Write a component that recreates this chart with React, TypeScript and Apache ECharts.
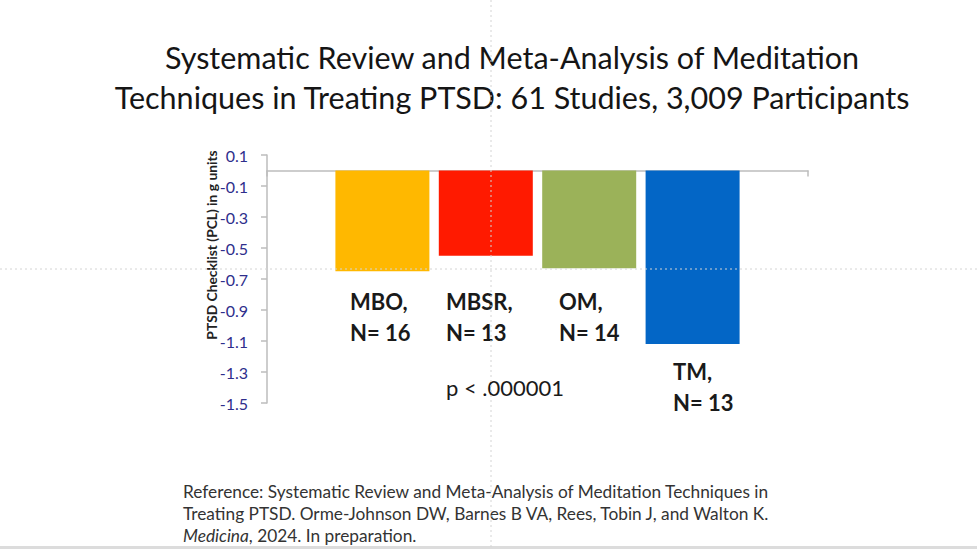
import React, { useEffect, useRef } from "react";
import * as echarts from "echarts";

const titleLines = [
  "Systematic Review and Meta-Analysis of Meditation",
  "Techniques in Treating PTSD: 61 Studies, 3,009 Participants",
];
const yAxisName = "PTSD Checklist (PCL) in g units";
const techniques = ["MBO", "MBSR", "OM", "TM"];
const studyCounts = [16, 13, 14, 13];
const effectSizes = [-0.65, -0.55, -0.63, -1.12];
const barColors = ["#FFB800", "#FF1A00", "#9BB259", "#0366C6"];
const yTicks = [0.1, -0.1, -0.3, -0.5, -0.7, -0.9, -1.1, -1.3, -1.5];
const pValueText = "p < .000001";
const referenceLines = [
  "Reference: Systematic Review and Meta-Analysis of Meditation Techniques in",
  "Treating PTSD. Orme-Johnson DW, Barnes B VA, Rees, Tobin J, and Walton K.",
];
const referenceItalic = "Medicina";
const referenceTail = ", 2024. In preparation.";

const labelPositions = [
  [350, 286],
  [446, 286],
  [559, 286],
  [673, 356],
];

export default function App() {
  const ref = useRef<HTMLDivElement>(null);
  useEffect(() => {
    if (!ref.current) return;
    const chart = echarts.init(ref.current, null, { renderer: "svg" });
    const font = "Lato, 'Open Sans', sans-serif";
    const graphic: any[] = [];
    titleLines.forEach((t, i) => {
      graphic.push({
        type: "text",
        x: 512,
        y: 57 + i * 40,
        style: {
          text: t,
          font: `30.5px ${font}`,
          fill: "#151515",
          textAlign: "center",
          textVerticalAlign: "middle",
        },
      });
    });
    graphic.push({
      type: "text",
      x: 211,
      y: 245,
      rotation: Math.PI / 2,
      style: {
        text: yAxisName,
        font: `bold 13.8px ${font}`,
        fill: "#222",
        textAlign: "center",
        textVerticalAlign: "middle",
      },
    });
    techniques.forEach((t, i) => {
      graphic.push({
        type: "text",
        x: labelPositions[i][0],
        y: labelPositions[i][1],
        style: {
          text: `${t},\nN= ${studyCounts[i]}`,
          font: `bold 22px ${font}`,
          fill: "#1a1a1a",
          lineHeight: 31,
          textAlign: "left",
          textVerticalAlign: "top",
        },
      });
    });
    graphic.push({
      type: "text",
      x: 446,
      y: 387,
      style: {
        text: pValueText,
        font: `22px ${font}`,
        fill: "#1a1a1a",
        textAlign: "left",
        textVerticalAlign: "middle",
      },
    });
    referenceLines.forEach((t, i) => {
      graphic.push({
        type: "text",
        x: 183,
        y: 491 + i * 22,
        style: {
          text: t,
          font: `17.3px ${font}`,
          fill: "#333",
          textAlign: "left",
          textVerticalAlign: "middle",
        },
      });
    });
    graphic.push({
      type: "text",
      x: 183,
      y: 535,
      style: {
        rich: {
          it: { fontStyle: "italic", fontSize: 17.3, fontFamily: font, fill: "#333" } as any,
          n: { fontSize: 17.3, fontFamily: font, fill: "#333" } as any,
        },
        text: `{it|${referenceItalic}}{n|${referenceTail}}`,
        font: `17.3px ${font}`,
        fill: "#333",
        textAlign: "left",
        textVerticalAlign: "middle",
      },
    });
    // screen overlay crosshair and bottom border
    graphic.push({
      type: "line",
      z: 100,
      shape: { x1: 491, y1: 0, x2: 491, y2: 549 },
      style: { stroke: "#d4d4d4", lineWidth: 1, lineDash: [2, 3] },
      silent: true,
    });
    graphic.push({
      type: "line",
      z: 100,
      shape: { x1: 0, y1: 269, x2: 977, y2: 269 },
      style: { stroke: "#d4d4d4", lineWidth: 1, lineDash: [2, 3] },
      silent: true,
    });
    graphic.push({
      type: "rect",
      shape: { x: 0, y: 546, width: 977, height: 3 },
      style: { fill: "#dcdcdc" },
    });

    chart.setOption({
      animation: false,
      backgroundColor: "#ffffff",
      grid: { left: 267, right: 169, top: 155, bottom: 146, containLabel: false },
      xAxis: {
        type: "category",
        data: [""],
        axisLine: { onZero: true, lineStyle: { color: "#bdbdbd", width: 1.5 } },
        axisTick: { show: true, length: 6, lineStyle: { color: "#bdbdbd", width: 1.5 } },
        axisLabel: { show: false },
      },
      yAxis: {
        type: "value",
        min: -1.5,
        max: 0.1,
        splitLine: { show: false },
        axisLine: { show: true, lineStyle: { color: "#bdbdbd", width: 1.5 } },
        axisTick: {
          show: true,
          length: 6,
          customValues: yTicks,
          lineStyle: { color: "#bdbdbd", width: 1.5 },
        },
        axisLabel: {
          customValues: yTicks,
          margin: 19,
          color: "#2e2e8c",
          fontSize: 16,
          fontFamily: font,
          formatter: (v: number) => v.toFixed(1),
        },
      },
      series: techniques.map((t, i) => ({
        type: "bar",
        name: t,
        data: [effectSizes[i]],
        barWidth: 94,
        barGap: "10%",
        itemStyle: { color: barColors[i] },
      })),
      graphic,
    });
    return () => chart.dispose();
  }, []);
  return (
    <div
      ref={ref}
      style={{ position: "fixed", left: 0, top: 0, width: 977, height: 549, background: "#fff" }}
    />
  );
}
